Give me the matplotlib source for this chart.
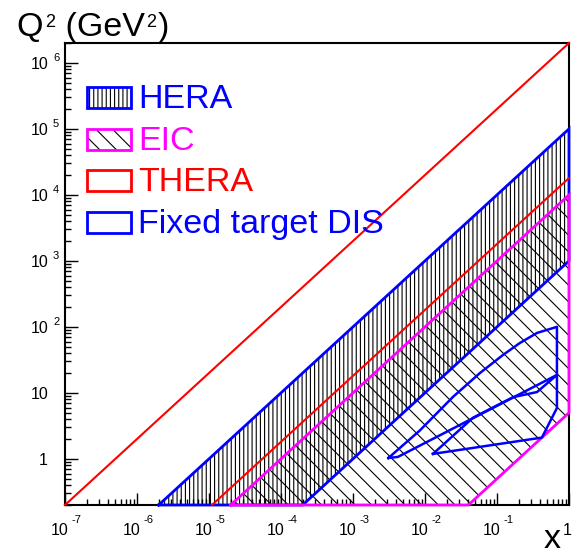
import numpy as np
import matplotlib.pyplot as plt
from matplotlib.patches import Polygon, Rectangle
from matplotlib.ticker import LogLocator
from matplotlib.transforms import offset_copy

plt.rcParams['font.family'] = ['Liberation Sans', 'DejaVu Sans']
plt.rcParams['hatch.linewidth'] = 0.8

# kinematic regions, corners given as (x, Q^2)
hera_x = [2e-6, 1.0, 1.0, 2e-4]
hera_q2 = [0.2, 1e5, 1e3, 0.2]
eic_x = [2e-5, 1.0, 1.0, 0.04]
eic_q2 = [0.2, 1e4, 5.0, 0.2]
thera_upper_x = [1e-7, 1.0]
thera_upper_q2 = [0.2, 2e6]
thera_lower_x = [1.1e-5, 1.0]
thera_lower_q2 = [0.2, 1.8e4]

# fixed target DIS outlines
dis_a_x = [0.0031, 0.0085, 0.0245, 0.058, 0.121, 0.208, 0.36, 0.68, 0.68, 0.0042]
dis_a_q2 = [1.03, 2.7, 8.7, 20, 37.5, 57, 81, 100, 18.7, 1.07]
dis_b_x = [0.0129, 0.0464, 0.167, 0.36, 0.68, 0.68, 0.42]
dis_b_q2 = [1.19, 4.2, 8.6, 10.3, 18.7, 5.9, 2.1]

legend_labels = ['HERA', 'EIC', 'THERA', 'Fixed target DIS']
legend_colors = ['blue', 'magenta', 'red', 'blue']
legend_hatches = ['||||', '\\\\', None, None]

x_decades = [-7, -6, -5, -4, -3, -2, -1, 0]
y_decades = [0, 1, 2, 3, 4, 5, 6]

W, H = 579, 554
fig = plt.figure(figsize=(W / 100, H / 100), dpi=100)
ax = fig.add_axes([65 / W, 1 - 505 / H, 504 / W, 462 / H])
ax.set_xscale('log')
ax.set_yscale('log')
ax.set_xlim(1e-7, 1)
ax.set_ylim(0.2, 2e6)


def region(xs, ys, color, hatch, lw):
    pts = np.column_stack([xs, ys])
    if hatch:
        ax.add_patch(Polygon(pts, closed=True, facecolor='none', edgecolor='black',
                             lw=0, hatch=hatch, zorder=1))
    ax.plot(list(xs) + [xs[0]], list(ys) + [ys[0]], color=color, lw=lw,
            clip_on=False, zorder=3, solid_joinstyle='miter')


region(hera_x, hera_q2, 'blue', '||||', 2.0)
ax.plot(thera_upper_x, thera_upper_q2, color='red', lw=1.5, zorder=3, clip_on=False)
ax.plot(thera_lower_x, thera_lower_q2, color='red', lw=1.5, zorder=3, clip_on=False)
region(eic_x, eic_q2, 'magenta', '\\\\', 2.0)
ax.plot(dis_a_x + [dis_a_x[0]], dis_a_q2 + [dis_a_q2[0]], color='blue', lw=1.8, zorder=4)
ax.plot(dis_b_x + [dis_b_x[0]], dis_b_q2 + [dis_b_q2[0]], color='blue', lw=1.8, zorder=4)

for s in ax.spines.values():
    s.set_linewidth(1.5)
ax.xaxis.set_major_locator(LogLocator(base=10, numticks=20))
ax.yaxis.set_major_locator(LogLocator(base=10, numticks=20))
ax.xaxis.set_minor_locator(LogLocator(base=10, subs=np.arange(2, 10), numticks=100))
ax.yaxis.set_minor_locator(LogLocator(base=10, subs=np.arange(2, 10), numticks=100))
ax.tick_params(which='both', direction='in', top=False, right=False,
               labelbottom=False, labelleft=False, width=1)
ax.tick_params(which='major', length=9)
ax.tick_params(which='minor', length=4.5)


def power_label(trans, pos, base, exp, base_off, exp_off):
    tb = offset_copy(trans, x=base_off[0], y=base_off[1], units='dots')
    ax.text(pos[0], pos[1], base, transform=tb, ha='right', va='baseline', fontsize=11.5)
    if exp:
        te = offset_copy(trans, x=exp_off[0], y=exp_off[1], units='dots')
        ax.text(pos[0], pos[1], exp, transform=te, ha='left', va='baseline', fontsize=8)


for e in x_decades:
    if e == 0:
        power_label(ax.get_xaxis_transform(), (1.0, 0), '1', '', (3, -30), None)
    else:
        power_label(ax.get_xaxis_transform(), (10.0 ** e, 0), '10', str(e), (3, -30), (6, -18))

for e in y_decades:
    base = '1' if e == 0 else '10'
    exp = str(e) if e >= 2 else ''
    power_label(ax.get_yaxis_transform(), (0, 10.0 ** e), base, exp, (-17, -6.5), (-12, 1.5))

# legend drawn by hand
box_w, box_h = 44 / 504, 21 / 462
for i, (lab, col, hat) in enumerate(zip(legend_labels, legend_colors, legend_hatches)):
    y0 = (505 - 108 - i * 41.7) / 462
    if hat:
        ax.add_patch(Rectangle((22 / 504, y0), box_w, box_h, transform=ax.transAxes,
                               facecolor='none', edgecolor='black', lw=0, hatch=hat, zorder=5))
    ax.add_patch(Rectangle((22 / 504, y0), box_w, box_h, transform=ax.transAxes,
                           facecolor='none', edgecolor=col, lw=2, zorder=5))
    ax.text(73 / 504, y0, lab, transform=ax.transAxes, color=col, fontsize=24.5,
            ha='left', va='baseline', zorder=5)

# axis titles, ROOT style
q = fig.text(16 / W, 1 - 36 / H, 'Q', fontsize=24.5, va='baseline')
s1 = ax.annotate('2', xy=(1, 0), xycoords=(q, q), xytext=(3, 16), textcoords='offset pixels',
                 fontsize=13, va='baseline', annotation_clip=False)
g = ax.annotate(' (GeV', xy=(1, 0), xycoords=(s1, q), xytext=(0, 0), textcoords='offset pixels',
                fontsize=24.5, va='bottom', annotation_clip=False)
s2 = ax.annotate('2', xy=(1, 0), xycoords=(g, q), xytext=(2, 16), textcoords='offset pixels',
                 fontsize=13, va='baseline', annotation_clip=False)
ax.annotate(')', xy=(1, 0), xycoords=(s2, q), xytext=(1, 0), textcoords='offset pixels',
            fontsize=24.5, va='bottom', annotation_clip=False)
fig.text(544 / W, 1 - 548 / H, 'x', fontsize=24.5, va='baseline')

fig.savefig('out.png', dpi=100)
